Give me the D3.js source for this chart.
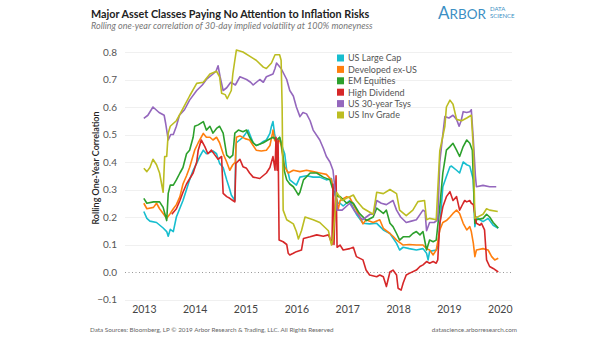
<!DOCTYPE html>
<html><head><meta charset="utf-8">
<script src="https://cdn.jsdelivr.net/npm/d3@7"></script>
<style>
html,body{margin:0;padding:0;background:#fff;}
svg{display:block;font-family:"Lato","Open Sans",sans-serif;}
</style></head>
<body><svg id="c" width="605" height="341"></svg>
<script>
const seriesNames = ["US Large Cap","Developed ex-US","EM Equities","High Dividend","US 30-year Tsys","US Inv Grade"];
const seriesColors = ["#17becf","#ff7f0e","#2ca02c","#d62728","#9467bd","#bcbd22"];
const yTicks = [-0.1,0,0.1,0.2,0.3,0.4,0.5,0.6,0.7,0.8];
const xTicks = [2013,2014,2015,2016,2017,2018,2019,2020];

const usLargeCap = [[2013.00,0.22],[2013.06,0.195],[2013.12,0.185],[2013.25,0.18],[2013.38,0.16],[2013.45,0.147],[2013.48,0.13],[2013.52,0.155],[2013.58,0.147],[2013.64,0.20],[2013.77,0.26],[2013.84,0.30],[2013.90,0.335],[2013.97,0.37],[2014.04,0.395],[2014.10,0.42],[2014.17,0.443],[2014.23,0.43],[2014.36,0.44],[2014.43,0.43],[2014.49,0.395],[2014.56,0.38],[2014.63,0.335],[2014.69,0.30],[2014.72,0.28],[2014.79,0.26],[2014.81,0.45],[2014.82,0.47],[2014.95,0.49],[2015.05,0.516],[2015.15,0.47],[2015.21,0.46],[2015.28,0.465],[2015.35,0.475],[2015.41,0.48],[2015.48,0.504],[2015.51,0.53],[2015.54,0.547],[2015.57,0.505],[2015.61,0.46],[2015.67,0.49],[2015.70,0.47],[2015.74,0.445],[2015.77,0.43],[2015.81,0.37],[2015.84,0.36],[2015.87,0.335],[2016.00,0.316],[2016.07,0.345],[2016.20,0.35],[2016.33,0.345],[2016.46,0.345],[2016.59,0.335],[2016.69,0.34],[2016.72,0.30],[2016.82,0.25],[2016.86,0.25],[2016.92,0.24],[2017.05,0.26],[2017.18,0.21],[2017.31,0.177],[2017.44,0.175],[2017.58,0.177],[2017.71,0.153],[2017.84,0.14],[2017.97,0.104],[2018.03,0.08],[2018.10,0.09],[2018.22,0.085],[2018.36,0.08],[2018.49,0.085],[2018.56,0.068],[2018.59,0.044],[2018.62,0.075],[2018.75,0.08],[2018.78,0.09],[2018.82,0.165],[2018.88,0.31],[2018.95,0.347],[2019.02,0.383],[2019.05,0.385],[2019.15,0.37],[2019.21,0.36],[2019.28,0.40],[2019.35,0.39],[2019.41,0.385],[2019.48,0.335],[2019.51,0.165],[2019.54,0.20],[2019.61,0.19],[2019.67,0.183],[2019.77,0.195],[2019.87,0.17],[2019.97,0.159]];

const developedExUS = [[2013.00,0.25],[2013.06,0.23],[2013.19,0.235],[2013.25,0.25],[2013.31,0.23],[2013.38,0.213],[2013.45,0.195],[2013.52,0.213],[2013.58,0.23],[2013.64,0.245],[2013.71,0.274],[2013.77,0.32],[2013.84,0.35],[2013.90,0.38],[2014.00,0.443],[2014.07,0.47],[2014.17,0.504],[2014.23,0.49],[2014.30,0.49],[2014.36,0.48],[2014.43,0.49],[2014.49,0.47],[2014.56,0.43],[2014.63,0.40],[2014.69,0.37],[2014.75,0.39],[2014.80,0.40],[2014.82,0.49],[2014.89,0.495],[2014.99,0.485],[2015.08,0.48],[2015.15,0.46],[2015.21,0.443],[2015.31,0.44],[2015.41,0.443],[2015.48,0.46],[2015.53,0.505],[2015.54,0.516],[2015.57,0.48],[2015.61,0.47],[2015.67,0.48],[2015.70,0.46],[2015.74,0.41],[2015.77,0.383],[2015.84,0.36],[2015.94,0.37],[2016.07,0.365],[2016.20,0.37],[2016.33,0.365],[2016.46,0.36],[2016.59,0.355],[2016.69,0.335],[2016.72,0.30],[2016.76,0.31],[2016.82,0.225],[2016.86,0.26],[2016.99,0.274],[2017.05,0.27],[2017.18,0.225],[2017.31,0.175],[2017.37,0.19],[2017.51,0.18],[2017.64,0.19],[2017.71,0.159],[2017.84,0.14],[2017.90,0.13],[2017.97,0.116],[2018.10,0.098],[2018.22,0.10],[2018.36,0.098],[2018.49,0.098],[2018.56,0.085],[2018.62,0.08],[2018.69,0.062],[2018.75,0.08],[2018.79,0.12],[2018.82,0.153],[2018.88,0.18],[2018.95,0.187],[2019.02,0.20],[2019.08,0.213],[2019.15,0.225],[2019.21,0.213],[2019.28,0.177],[2019.35,0.153],[2019.41,0.165],[2019.44,0.147],[2019.48,0.104],[2019.51,0.056],[2019.54,0.08],[2019.67,0.085],[2019.77,0.08],[2019.84,0.056],[2019.90,0.044],[2019.97,0.05]];

const emEquities = [[2013.00,0.268],[2013.06,0.25],[2013.19,0.255],[2013.31,0.255],[2013.38,0.235],[2013.45,0.187],[2013.48,0.286],[2013.52,0.316],[2013.58,0.316],[2013.64,0.335],[2013.71,0.36],[2013.77,0.38],[2013.84,0.43],[2013.90,0.443],[2013.97,0.49],[2014.00,0.53],[2014.07,0.535],[2014.17,0.547],[2014.23,0.516],[2014.30,0.53],[2014.36,0.505],[2014.43,0.522],[2014.49,0.53],[2014.56,0.505],[2014.63,0.425],[2014.69,0.415],[2014.75,0.425],[2014.79,0.505],[2014.86,0.516],[2014.95,0.51],[2015.02,0.516],[2015.08,0.49],[2015.15,0.47],[2015.21,0.46],[2015.35,0.47],[2015.44,0.48],[2015.54,0.49],[2015.61,0.48],[2015.67,0.49],[2015.70,0.47],[2015.74,0.42],[2015.76,0.37],[2015.81,0.335],[2015.87,0.32],[2015.94,0.31],[2016.00,0.292],[2016.04,0.28],[2016.07,0.29],[2016.14,0.335],[2016.27,0.36],[2016.40,0.36],[2016.53,0.345],[2016.66,0.335],[2016.69,0.316],[2016.72,0.30],[2016.82,0.274],[2016.86,0.274],[2016.99,0.25],[2017.05,0.256],[2017.12,0.25],[2017.24,0.213],[2017.38,0.187],[2017.51,0.20],[2017.58,0.232],[2017.71,0.213],[2017.77,0.225],[2017.84,0.177],[2017.90,0.165],[2017.97,0.14],[2018.03,0.116],[2018.10,0.128],[2018.22,0.128],[2018.29,0.14],[2018.36,0.147],[2018.43,0.135],[2018.49,0.147],[2018.56,0.08],[2018.62,0.116],[2018.69,0.11],[2018.75,0.116],[2018.82,0.237],[2018.88,0.36],[2018.92,0.407],[2018.95,0.443],[2019.02,0.456],[2019.08,0.468],[2019.15,0.443],[2019.21,0.42],[2019.28,0.456],[2019.35,0.48],[2019.41,0.468],[2019.46,0.443],[2019.51,0.177],[2019.54,0.19],[2019.67,0.195],[2019.74,0.21],[2019.80,0.20],[2019.87,0.18],[2019.97,0.16]];

const highDividend = [[2013.55,0.21],[2013.64,0.23],[2013.71,0.26],[2013.77,0.29],[2013.84,0.32],[2013.97,0.36],[2014.04,0.40],[2014.07,0.443],[2014.13,0.48],[2014.20,0.456],[2014.26,0.43],[2014.33,0.443],[2014.40,0.425],[2014.46,0.41],[2014.53,0.42],[2014.54,0.37],[2014.56,0.286],[2014.63,0.274],[2014.69,0.268],[2014.75,0.26],[2014.79,0.255],[2014.81,0.395],[2014.89,0.41],[2014.95,0.383],[2015.02,0.377],[2015.08,0.36],[2015.15,0.345],[2015.28,0.34],[2015.41,0.36],[2015.48,0.38],[2015.54,0.42],[2015.58,0.37],[2015.60,0.49],[2015.62,0.37],[2015.64,0.48],[2015.66,0.116],[2015.74,0.11],[2015.81,0.10],[2015.84,0.068],[2015.87,0.062],[2015.94,0.068],[2016.00,0.074],[2016.10,0.08],[2016.14,0.122],[2016.27,0.128],[2016.40,0.135],[2016.53,0.13],[2016.63,0.135],[2016.66,0.122],[2016.70,0.10],[2016.72,0.32],[2016.74,0.10],[2016.78,0.35],[2016.80,0.09],[2016.86,0.098],[2016.92,0.08],[2017.05,0.085],[2017.12,0.09],[2017.18,0.056],[2017.31,0.044],[2017.37,0.007],[2017.44,-0.011],[2017.58,-0.017],[2017.64,-0.011],[2017.71,-0.017],[2017.77,-0.053],[2017.80,-0.03],[2017.84,0.0],[2017.90,0.007],[2017.97,-0.011],[2018.00,-0.059],[2018.06,-0.066],[2018.10,-0.04],[2018.16,-0.011],[2018.22,-0.005],[2018.36,0.007],[2018.43,0.02],[2018.49,0.026],[2018.56,0.038],[2018.62,0.032],[2018.69,0.038],[2018.75,0.032],[2018.78,0.044],[2018.82,0.177],[2018.88,0.237],[2018.95,0.274],[2019.02,0.292],[2019.08,0.26],[2019.15,0.274],[2019.21,0.225],[2019.28,0.25],[2019.31,0.26],[2019.35,0.255],[2019.41,0.26],[2019.44,0.25],[2019.48,0.245],[2019.54,0.177],[2019.61,0.17],[2019.64,0.177],[2019.70,0.153],[2019.74,0.044],[2019.80,0.02],[2019.87,0.013],[2019.97,0.0]];

const us30yTsys = [[2013.00,0.559],[2013.08,0.57],[2013.18,0.60],[2013.24,0.59],[2013.30,0.58],[2013.40,0.57],[2013.43,0.54],[2013.48,0.48],[2013.53,0.50],[2013.58,0.50],[2013.64,0.53],[2013.70,0.57],[2013.80,0.59],[2013.90,0.625],[2014.04,0.66],[2014.15,0.68],[2014.23,0.70],[2014.36,0.72],[2014.42,0.73],[2014.46,0.75],[2014.50,0.71],[2014.56,0.66],[2014.63,0.67],[2014.71,0.69],[2014.80,0.68],[2014.89,0.71],[2015.02,0.70],[2015.10,0.69],[2015.15,0.68],[2015.28,0.70],[2015.35,0.69],[2015.41,0.71],[2015.54,0.72],[2015.58,0.74],[2015.61,0.76],[2015.70,0.74],[2015.81,0.70],[2015.87,0.66],[2015.94,0.64],[2016.00,0.60],[2016.07,0.565],[2016.13,0.58],[2016.20,0.575],[2016.27,0.55],[2016.33,0.516],[2016.46,0.48],[2016.53,0.45],[2016.59,0.42],[2016.66,0.40],[2016.72,0.37],[2016.76,0.30],[2016.80,0.225],[2016.90,0.225],[2017.05,0.25],[2017.15,0.22],[2017.30,0.19],[2017.45,0.21],[2017.52,0.21],[2017.58,0.26],[2017.67,0.25],[2017.77,0.245],[2017.90,0.26],[2017.97,0.225],[2018.05,0.20],[2018.16,0.18],[2018.26,0.185],[2018.36,0.19],[2018.49,0.225],[2018.53,0.22],[2018.56,0.15],[2018.62,0.18],[2018.71,0.18],[2018.78,0.19],[2018.82,0.40],[2018.88,0.50],[2018.92,0.565],[2019.00,0.56],[2019.08,0.57],[2019.15,0.555],[2019.20,0.53],[2019.24,0.55],[2019.28,0.583],[2019.35,0.58],[2019.41,0.583],[2019.44,0.59],[2019.48,0.48],[2019.52,0.35],[2019.54,0.31],[2019.67,0.315],[2019.80,0.31],[2019.93,0.31]];

const usInvGrade = [[2013.00,0.377],[2013.06,0.365],[2013.12,0.38],[2013.18,0.41],[2013.25,0.39],[2013.31,0.36],[2013.38,0.29],[2013.41,0.42],[2013.45,0.42],[2013.48,0.505],[2013.52,0.53],[2013.64,0.55],[2013.70,0.57],[2013.90,0.64],[2014.04,0.686],[2014.17,0.69],[2014.30,0.72],[2014.43,0.73],[2014.49,0.71],[2014.53,0.65],[2014.60,0.645],[2014.64,0.63],[2014.72,0.66],[2014.75,0.72],[2014.79,0.77],[2014.82,0.807],[2014.95,0.80],[2015.08,0.785],[2015.21,0.77],[2015.35,0.745],[2015.41,0.74],[2015.51,0.76],[2015.58,0.79],[2015.67,0.79],[2015.70,0.77],[2015.72,0.60],[2015.74,0.225],[2015.81,0.19],[2015.94,0.175],[2016.00,0.147],[2016.04,0.12],[2016.10,0.15],[2016.17,0.20],[2016.33,0.19],[2016.46,0.18],[2016.63,0.15],[2016.69,0.098],[2016.72,0.12],[2016.79,0.29],[2016.90,0.26],[2017.05,0.274],[2017.12,0.28],[2017.18,0.26],[2017.31,0.232],[2017.51,0.21],[2017.58,0.29],[2017.71,0.285],[2017.84,0.30],[2017.97,0.285],[2018.03,0.225],[2018.16,0.205],[2018.29,0.225],[2018.39,0.256],[2018.52,0.26],[2018.56,0.19],[2018.62,0.195],[2018.75,0.19],[2018.82,0.44],[2018.92,0.53],[2018.95,0.60],[2019.02,0.625],[2019.08,0.61],[2019.15,0.555],[2019.25,0.55],[2019.35,0.56],[2019.44,0.57],[2019.48,0.45],[2019.51,0.195],[2019.67,0.21],[2019.74,0.23],[2019.80,0.225],[2019.96,0.22]];

const allSeries = [usLargeCap, developedExUS, emEquities, highDividend, us30yTsys, usInvGrade];

const svg = d3.select("#c");
const x = d3.scaleLinear().domain([2012.63, 2020.24]).range([125, 512]);
const y = d3.scaleLinear().domain([0, 0.8]).range([272, 52]);

// gridlines
svg.append("g").selectAll("line").data(yTicks.filter(d => d !== 0)).join("line")
  .attr("x1", 125).attr("x2", 512)
  .attr("y1", d => Math.round(y(d)) + 0.5).attr("y2", d => Math.round(y(d)) + 0.5)
  .attr("stroke", "#f0f0f0").attr("stroke-width", 1);
svg.append("line").attr("x1", 125).attr("x2", 512)
  .attr("y1", Math.round(y(0)) + 0.5).attr("y2", Math.round(y(0)) + 0.5)
  .attr("stroke", "#999").attr("stroke-width", 1).attr("stroke-dasharray", "1,2.5");

// y axis
const yAxis = d3.axisLeft(y).tickValues(yTicks).tickSize(0).tickPadding(8)
  .tickFormat(d3.format(".1f"));
const gy = svg.append("g").attr("transform", "translate(125,0)").call(yAxis);
gy.select(".domain").remove();
gy.selectAll("text").attr("fill", "#555").style("font-size", "10px").style("font-family", "Lato, sans-serif");

// x axis
const xAxis = d3.axisBottom(x).tickValues(xTicks).tickSize(0).tickPadding(0).tickFormat(d3.format("d"));
const gx = svg.append("g").attr("transform", "translate(0,306)").call(xAxis);
gx.select(".domain").remove();
gx.selectAll("text").attr("fill", "#444").style("font-size", "10.5px").style("font-family", "Lato, sans-serif");

// lines
const line = d3.line().x(d => x(d[0])).y(d => y(d[1]));
svg.append("g").selectAll("path").data(allSeries).join("path")
  .attr("d", line).attr("fill", "none")
  .attr("stroke", (d, i) => seriesColors[i]).attr("stroke-width", 1.6)
  .attr("stroke-linejoin", "round");

// legend
const lg = svg.append("g");
seriesNames.forEach((n, i) => {
  const yy = 58 + i * 11.4;
  lg.append("rect").attr("x", 337).attr("y", yy - 3.5).attr("width", 7).attr("height", 7).attr("fill", seriesColors[i]);
  lg.append("text").attr("x", 348).attr("y", yy + 3.3).text(n)
    .attr("fill", "#555").style("font-size", "9px");
});

// y title
svg.append("text").attr("transform", "translate(99,168) rotate(-90)")
  .attr("text-anchor", "middle").attr("fill", "#222")
  .style("font-size", "9px").style("font-weight", "600").text("Rolling One-Year Correlation");

// title & subtitle
svg.append("text").attr("x", 91).attr("y", 18).attr("fill", "#222")
  .style("font-size", "10.8px").style("font-weight", "bold").text("Major Asset Classes Paying No Attention to Inflation Risks");
svg.append("text").attr("x", 91).attr("y", 29).attr("fill", "#777")
  .style("font-size", "9px").style("font-style", "italic").text("Rolling one-year correlation of 30-day implied volatility at 100% moneyness");

// logo
const logo = svg.append("text").attr("x", 438).attr("y", 19).attr("fill", "#3b8fc4");
logo.append("tspan").style("font-size", "17px").text("A");
logo.append("tspan").style("font-size", "13.5px").text("RBOR");
svg.append("text").attr("x", 490).attr("y", 11).attr("fill", "#3b8fc4").style("font-size", "6px").text("DATA");
svg.append("text").attr("x", 490).attr("y", 18).attr("fill", "#3b8fc4").style("font-size", "6px").text("SCIENCE");

// footer
svg.append("text").attr("x", 90).attr("y", 332).attr("fill", "#666").style("font-size", "6.3px")
  .text("Data Sources: Bloomberg, LP © 2019 Arbor Research & Trading, LLC. All Rights Reserved");
svg.append("text").attr("x", 517).attr("y", 332).attr("text-anchor", "end").attr("fill", "#666").style("font-size", "6.3px")
  .text("datascience.arborresearch.com");
</script></body></html>
